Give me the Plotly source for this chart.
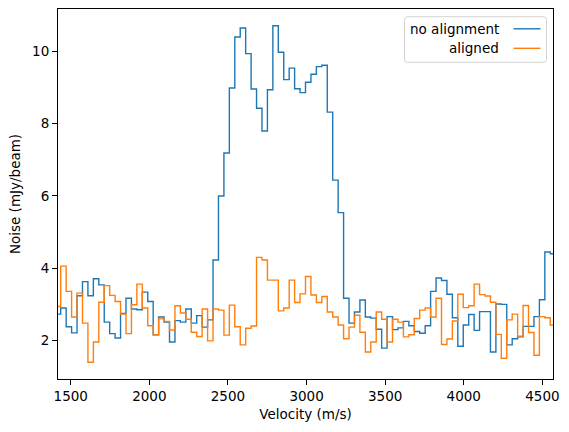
import plotly.graph_objects as go

# ---- data ----
v_start = 1419.0      # first channel velocity (m/s)
dv = 34.6             # channel width (m/s)

noise_no_alignment = [
    2.73, 2.90, 2.38, 2.21, 3.24, 3.63, 3.24, 3.71, 3.54, 2.51,
    2.19, 2.07, 2.75, 3.17, 2.87, 2.85, 3.34, 3.08, 2.16, 2.65,
    2.51, 1.96, 2.55, 2.51, 2.87, 2.48, 2.69, 2.37, 2.57, 4.23,
    6.00, 7.19, 8.99, 10.40, 10.65, 9.94, 8.96, 8.43, 7.80, 8.94,
    10.71, 9.98, 9.22, 9.54, 8.97, 8.86, 9.15, 9.37, 9.58, 9.62,
    8.32, 6.44, 5.54, 3.17, 2.48, 2.79, 3.12, 2.65, 2.62, 2.31,
    1.79, 2.66, 2.30, 2.35, 2.53, 2.41, 2.25, 2.20, 2.41, 3.36,
    3.73, 3.66, 3.28, 2.63, 1.84, 2.43, 2.72, 2.28, 2.80, 2.80,
    1.68, 3.01, 3.00, 1.88, 2.05, 2.10, 2.39, 2.39, 2.66, 3.13,
    4.45, 4.40,
]

noise_aligned = [
    2.94, 4.06, 3.36, 2.65, 3.31, 2.48, 1.40, 1.96, 3.06, 3.52,
    3.25, 3.08, 2.73, 2.19, 2.99, 3.56, 2.90, 2.41, 2.16, 2.60,
    2.53, 2.29, 2.96, 2.76, 2.59, 2.23, 2.11, 2.87, 1.99, 2.87,
    2.84, 2.15, 2.98, 2.38, 1.88, 2.34, 2.40, 4.30, 4.23, 3.67,
    3.67, 2.82, 2.90, 3.67, 3.05, 3.29, 3.77, 3.26, 3.05, 3.22,
    2.79, 2.65, 2.43, 2.05, 2.37, 2.70, 2.23, 1.68, 1.96, 2.79,
    2.59, 1.96, 2.59, 2.51, 2.10, 2.16, 2.61, 2.84, 2.90, 2.65,
    3.17, 1.89, 2.04, 2.54, 3.28, 2.91, 2.96, 3.56, 3.27, 3.23,
    3.06, 2.17, 1.51, 2.57, 2.73, 2.12, 2.97, 2.22, 1.59, 2.66,
    2.63, 2.43,
]

series_names = ["no alignment", "aligned"]
x_ticks = [1500, 2000, 2500, 3000, 3500, 4000, 4500]
y_ticks = [2, 4, 6, 8, 10]

velocity = [v_start + dv * i for i in range(len(noise_no_alignment))]

# ---- figure ----
W, H = 569, 432
L, R, T, B = 58, 16, 9, 53
pw, ph = W - L - R, H - T - B
colors = ["#1f77b4", "#ff7f0e"]
FONT = "DejaVu Sans"

fig = go.Figure()
for name, ys, c in zip(series_names, [noise_no_alignment, noise_aligned], colors):
    fig.add_trace(go.Scatter(x=velocity, y=ys, mode="lines", name=name,
                             line=dict(shape="hvh", color=c, width=1.4),
                             showlegend=False))

allv = noise_no_alignment + noise_aligned
lo, hi = min(allv), max(allv)
pad = 0.05 * (hi - lo)

axis_common = dict(showline=True, linecolor="black", linewidth=1.1, mirror=True,
                   ticks="outside", ticklen=5, tickwidth=1.1, tickcolor="black",
                   showgrid=False, zeroline=False,
                   tickfont=dict(family=FONT, size=13.5, color="black"))

fig.update_layout(
    width=W, height=H,
    margin=dict(l=L, r=R, t=T, b=B, pad=0),
    paper_bgcolor="white", plot_bgcolor="white",
    font=dict(family=FONT, size=13.5, color="black"),
    xaxis=dict(range=[velocity[0], velocity[-1]], tickvals=x_ticks,
               title=dict(text="Velocity (m/s)", standoff=6,
                          font=dict(family=FONT, size=13.5, color="black")),
               **axis_common),
    yaxis=dict(range=[lo - pad, hi + pad], tickvals=y_ticks,
               title=dict(text="Noise (mJy/beam)", standoff=8,
                          font=dict(family=FONT, size=13.5, color="black")),
               **axis_common),
)

# ---- custom legend (text first, line handle after) ----
def px2paper(px, py):
    return (px - L) / pw, (H - B - py) / ph

x0, y0 = px2paper(404.5, 62.3)
x1, y1 = px2paper(546.5, 16.7)
rx, ry = 3.0 / pw, 3.0 / ph
path = (f"M{x0+rx},{y0} L{x1-rx},{y0} Q{x1},{y0} {x1},{y0+ry} "
        f"L{x1},{y1-ry} Q{x1},{y1} {x1-rx},{y1} L{x0+rx},{y1} "
        f"Q{x0},{y1} {x0},{y1-ry} L{x0},{y0+ry} Q{x0},{y0} {x0+rx},{y0} Z")
fig.add_shape(type="path", path=path, xref="paper", yref="paper",
              line=dict(color="#d3d3d3", width=1), fillcolor="rgba(255,255,255,0.8)",
              layer="above")

for i, (name, c) in enumerate(zip(series_names, colors)):
    py = 28.8 + i * 19.5
    lx0, ly = px2paper(513.5, py)
    lx1, _ = px2paper(540.5, py)
    fig.add_shape(type="line", x0=lx0, x1=lx1, y0=ly, y1=ly, xref="paper", yref="paper",
                  line=dict(color=c, width=1.4), layer="above")
    tx, _ = px2paper(500.5, py)
    fig.add_annotation(x=tx, y=ly, xref="paper", yref="paper", text=name,
                       showarrow=False, xanchor="right", yanchor="middle",
                       font=dict(family=FONT, size=13.5, color="black"))

fig.write_html("out.html")
